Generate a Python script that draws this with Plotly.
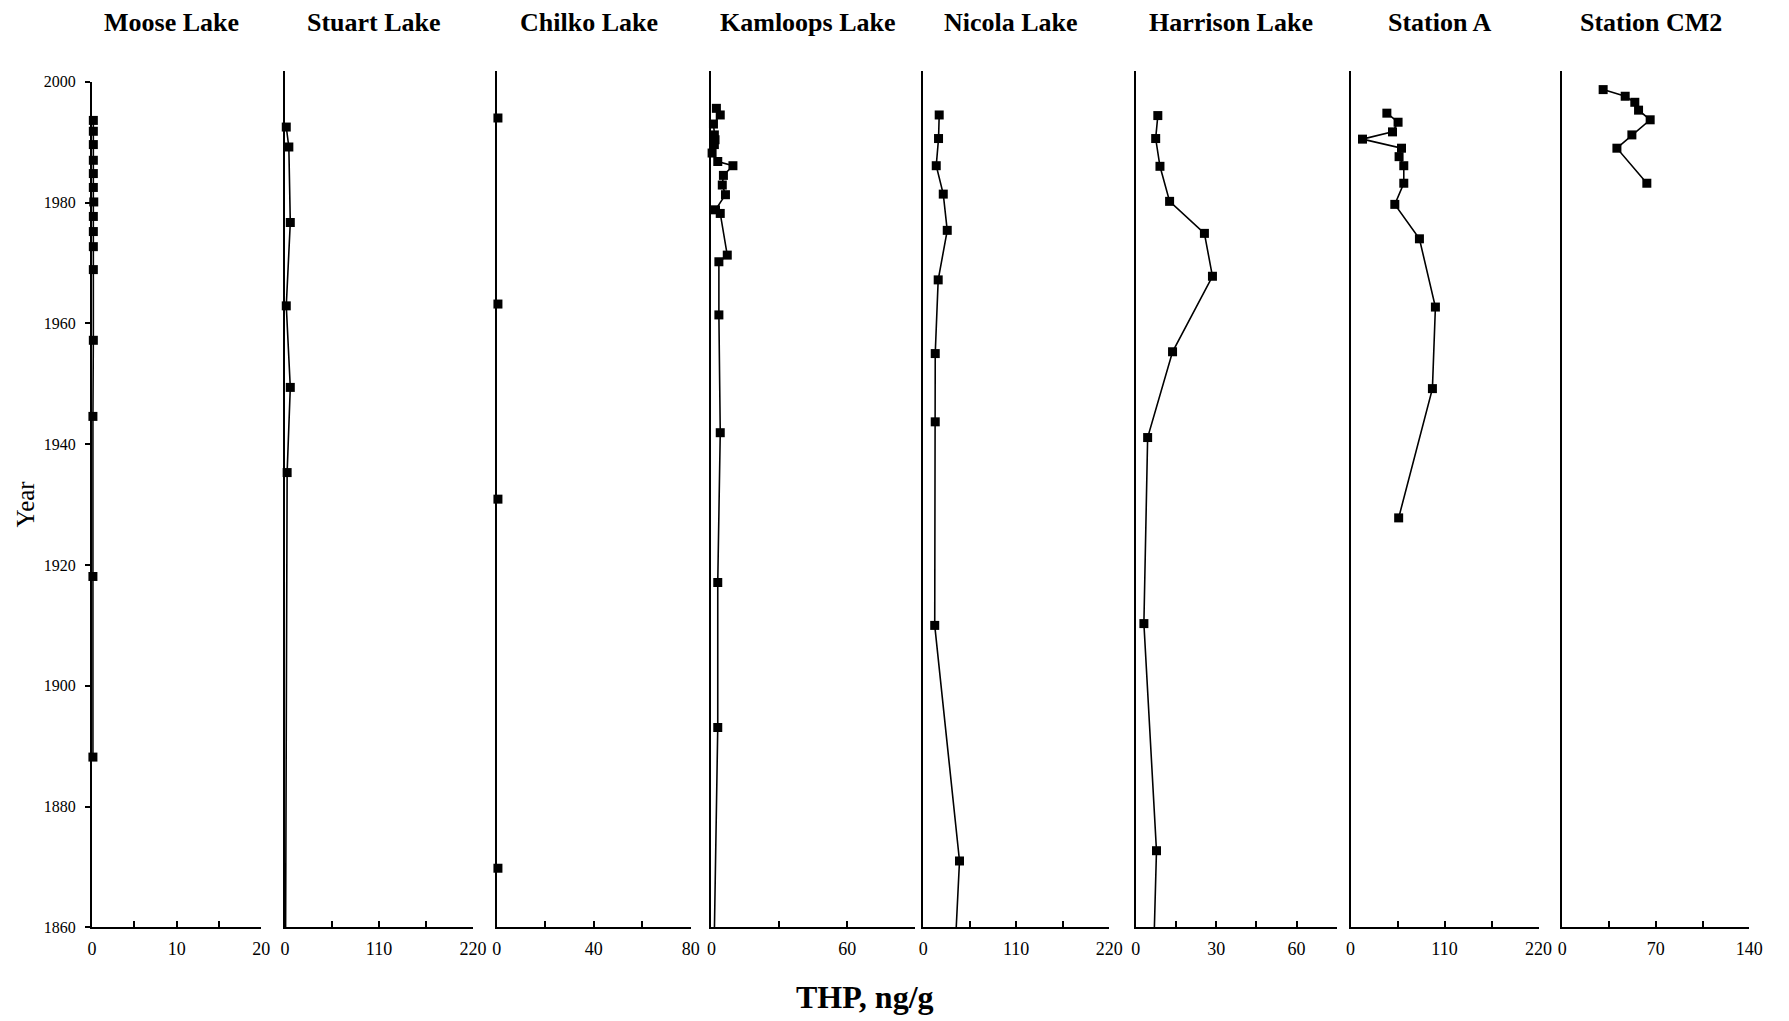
import plotly.graph_objects as go

W, H = 1789, 1021

PANEL_TITLES = ["Moose Lake", "Stuart Lake", "Chilko Lake", "Kamloops Lake",
                "Nicola Lake", "Harrison Lake", "Station A", "Station CM2"]

# ---- data (year, THP ng/g) ----
MOOSE_YEAR = [1993.6, 1991.8, 1989.6, 1987.0, 1984.8, 1982.5, 1980.1, 1977.7,
              1975.2, 1972.7, 1968.9, 1957.2, 1944.6, 1918.1, 1888.2]
MOOSE_THP = [0.15, 0.15, 0.15, 0.15, 0.15, 0.15, 0.2, 0.15,
             0.15, 0.15, 0.15, 0.15, 0.1, 0.1, 0.1]

STUART_YEAR = [1992.5, 1989.2, 1976.7, 1962.9, 1949.4, 1935.3, 1850.0]
STUART_THP = [1.5, 4.5, 6.2, 1.5, 6.2, 2.5, 0.5]

CHILKO_YEAR = [1994.0, 1963.2, 1930.9, 1869.8]
CHILKO_THP = [0.5, 0.5, 0.5, 0.5]

KAMLOOPS_YEAR = [1995.6, 1994.5, 1993.0, 1991.2, 1990.4, 1989.6, 1988.2, 1986.8,
                 1986.1, 1984.5, 1982.9, 1981.3, 1978.8, 1978.2, 1971.3, 1970.2,
                 1961.4, 1941.9, 1917.1, 1893.1, 1850.0]
KAMLOOPS_THP = [2.2, 3.9, 0.9, 1.3, 1.6, 1.3, 0.3, 2.8,
                9.5, 5.3, 4.8, 6.2, 1.8, 3.9, 7.0, 3.3,
                3.3, 3.9, 2.8, 2.8, 0.9]

NICOLA_YEAR = [1994.5, 1990.6, 1986.1, 1981.4, 1975.4, 1967.2, 1955.0, 1943.7,
               1910.0, 1871.0, 1850.0]
NICOLA_THP = [19.0, 18.2, 15.5, 23.8, 28.5, 17.8, 14.3, 14.3,
              13.7, 43.0, 35.6]

HARRISON_YEAR = [1994.4, 1990.6, 1986.0, 1980.2, 1974.9, 1967.8, 1955.3, 1941.1,
                 1910.3, 1872.7, 1850.0]
HARRISON_THP = [8.2, 7.4, 9.0, 12.6, 25.6, 28.6, 13.7, 4.4,
                3.0, 7.7, 6.3]

STATION_A_YEAR = [1994.8, 1993.3, 1991.7, 1990.5, 1989.0, 1987.6, 1986.1, 1983.2,
                  1979.7, 1974.0, 1962.7, 1949.2, 1927.8]
STATION_A_THP = [42.5, 55.6, 49.1, 14.0, 59.6, 56.8, 62.3, 62.3,
                 51.8, 80.6, 99.3, 95.8, 56.3]

CM2_YEAR = [1998.7, 1997.6, 1996.6, 1995.3, 1993.7, 1991.2, 1989.0, 1983.2]
CM2_THP = [30.6, 47.1, 54.3, 57.1, 65.8, 52.1, 40.9, 63.3]

SERIES = [(MOOSE_YEAR, MOOSE_THP), (STUART_YEAR, STUART_THP), (CHILKO_YEAR, CHILKO_THP),
          (KAMLOOPS_YEAR, KAMLOOPS_THP), (NICOLA_YEAR, NICOLA_THP),
          (HARRISON_YEAR, HARRISON_THP), (STATION_A_YEAR, STATION_A_THP),
          (CM2_YEAR, CM2_THP)]

X_MAX = [20, 220, 80, 90, 220, 75, 220, 140]
X_TICKVALS = [[0, 5, 10, 15, 20], [0, 55, 110, 165, 220], [0, 20, 40, 60, 80],
              [0, 30, 60, 90], [0, 55, 110, 165, 220], [0, 15, 30, 45, 60, 75],
              [0, 55, 110, 165, 220], [0, 35, 70, 105, 140]]
X_TICKTEXT = [["0", "", "10", "", "20"], ["0", "", "110", "", "220"], ["0", "", "40", "", "80"],
              ["0", "", "60", ""], ["0", "", "110", "", "220"], ["0", "", "30", "", "60", ""],
              ["0", "", "110", "", "220"], ["0", "", "70", "", "140"]]

Y_TICKS = [1860, 1880, 1900, 1920, 1940, 1960, 1980, 2000]

# ---- layout geometry (pixels) ----
PANEL_PX = [(88, 259), (283, 473), (497, 693), (714, 920),
            (928, 1116), (1143, 1346), (1360, 1550), (1574, 1763)]
SHOW_LINE = [True, True, False, True, True, True, True, True]
TOP_PX, BOT_PX = 75, 935
TOP2_PX = 64
PX_PER_YEAR = (BOT_PX - TOP_PX) / 140.0

FONT = "Liberation Serif"

def px_x(p):
    return p / W

def px_y(p):
    return 1 - p / H

fig = go.Figure()
layout = dict(width=W, height=H, margin=dict(l=0, r=0, t=0, b=0),
              paper_bgcolor="white", plot_bgcolor="white", showlegend=False,
              font=dict(family=FONT, color="black"))
annotations = []

for i, ((yrs, vals), (x0, x1), title) in enumerate(zip(SERIES, PANEL_PX, PANEL_TITLES)):
    n = "" if i == 0 else str(i + 1)
    xa, ya = "x" + n, "y" + n
    if SHOW_LINE[i]:
        fig.add_trace(go.Scatter(x=vals, y=yrs, mode="lines", xaxis=xa, yaxis=ya,
                                 line=dict(color="black", width=1.6), hoverinfo="skip"))
    mx = [v for v, y in zip(vals, yrs) if y >= 1860]
    my = [y for y in yrs if y >= 1860]
    fig.add_trace(go.Scatter(x=mx, y=my, mode="markers", xaxis=xa, yaxis=ya,
                             cliponaxis=False,
                             marker=dict(symbol="square", size=9, color="black")))
    top = TOP_PX if i == 0 else TOP2_PX
    ytop = 2000 + (TOP_PX - top) / PX_PER_YEAR
    layout["xaxis" + n] = dict(domain=[px_x(x0), px_x(x1)], range=[0, X_MAX[i]],
                              anchor=ya, showline=True, linecolor="black", linewidth=2,
                              ticks="inside", ticklen=6, tickwidth=1.5, tickcolor="black",
                              tickvals=X_TICKVALS[i], ticktext=X_TICKTEXT[i],
                              ticklabelstandoff=4,
                              tickfont=dict(size=18, family=FONT), showgrid=False,
                              zeroline=False, fixedrange=True)
    ycfg = dict(domain=[px_y(BOT_PX), px_y(top)], range=[1860, ytop], anchor=xa,
                showline=True, linecolor="black", linewidth=2, showgrid=False,
                zeroline=False)
    if i == 0:
        ycfg.update(ticks="outside", ticklen=5, tickwidth=1.5, tickcolor="black",
                    tickvals=Y_TICKS, ticklabelstandoff=6,
                    tickfont=dict(size=16, family=FONT))
    else:
        ycfg.update(ticks="", showticklabels=False)
    layout["yaxis" + n] = ycfg
    annotations.append(dict(text="<b>" + title + "</b>", x=px_x((x0 + x1) / 2 - 5), y=px_y(15),
                            xref="paper", yref="paper", showarrow=False,
                            xanchor="center", yanchor="middle",
                            font=dict(size=26, family=FONT, color="black")))

annotations.append(dict(text="Year", x=px_x(21), y=px_y(504), xref="paper", yref="paper",
                        showarrow=False, textangle=-90, xanchor="center", yanchor="middle",
                        font=dict(size=25, family=FONT, color="black")))
annotations.append(dict(text="<b>THP, ng/g</b>", x=px_x(869), y=px_y(1006), xref="paper",
                        yref="paper", showarrow=False, xanchor="center", yanchor="middle",
                        font=dict(size=32, family=FONT, color="black")))
layout["annotations"] = annotations
fig.update_layout(**layout)
fig.write_html("out.html")
